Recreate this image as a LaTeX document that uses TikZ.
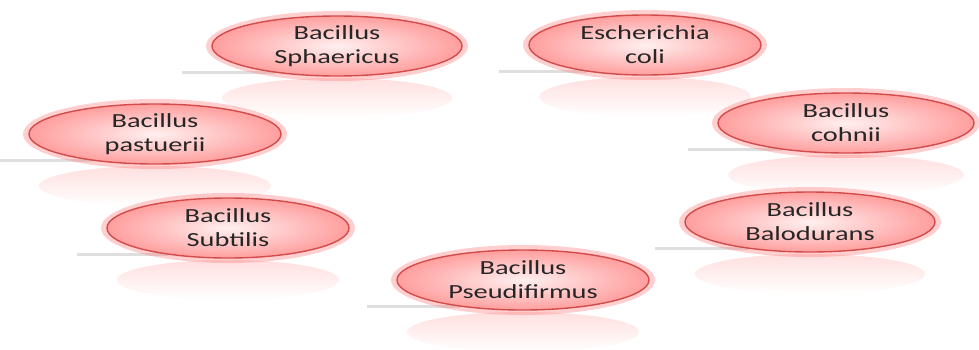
\documentclass[tikz,border=0pt]{standalone}
\usepackage{fontspec}
\setmainfont{Carlito}
\usetikzlibrary{shapes.geometric,fadings}
\tikzfading[name=reflfade, top color=transparent!50, bottom color=transparent!100]
\tikzset{
  bubble/.style={ellipse, minimum width=#1, minimum height=60pt, inner sep=0pt,
    draw=red!75!black!70, line width=1.4pt, inner color=red!6, outer color=red!38!white,
    align=center, font=\fontsize{20}{24}\selectfont, text=black!85},
  glow/.style={ellipse, minimum width=#1, minimum height=70pt, inner sep=0pt,
    fill=red!55, opacity=0.35, draw=none},
  refl/.style={ellipse, minimum width=#1, minimum height=40pt, inner sep=0pt,
    fill=red!25, draw=none, path fading=reflfade},
  shad/.style={fill=gray!50, opacity=0.5, draw=none}
}
\newcommand{\wide}[1]{\scalebox{1.42}[1]{#1}}
\begin{document}
\begin{tikzpicture}[x=1pt,y=-1pt]
\useasboundingbox (0,0) rectangle (979,349);
\foreach \n/\x/\y/\w/\ta/\tb in {
  sph/337/46/250/Bacillus/Sphaericus,
  eco/645/45/232/Escherichia/coli,
  pas/155/134/252/Bacillus/pastuerii,
  coh/846/123/256/Bacillus/cohnii,
  sub/228/228/242/Bacillus/Subtilis,
  bal/810/222/250/Bacillus/Balodurans,
  pse/523/280/252/Bacillus/Pseudifirmus}{
  \node[refl=\w-20] (r\n) at (\x,\y+52) {};
  \path[shad] (\x-\w/2-30,\y+25) rectangle (\x-\w/4,\y+28);
  \node[glow=\w+12] (g\n) at (\x,\y) {};
  \node[bubble=\w] (\n) at (\x,\y) {\wide{\ta}\\\wide{\tb}};
}
\end{tikzpicture}
\end{document}
